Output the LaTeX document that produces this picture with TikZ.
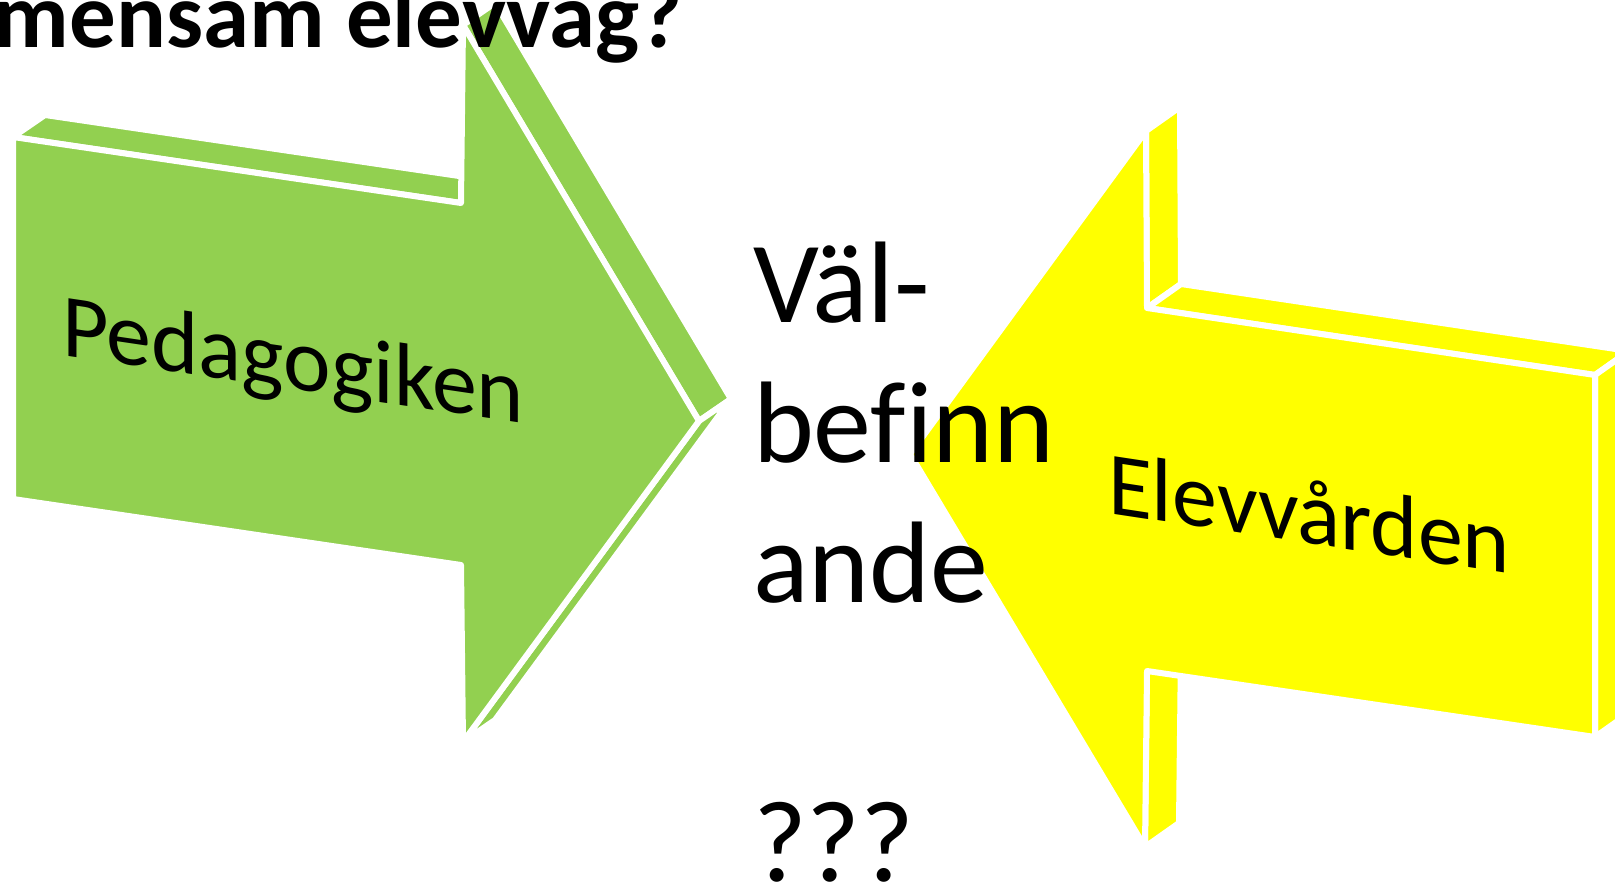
\documentclass[tikz,border=0pt]{standalone}
\usepackage{fontspec}
\setmainfont{Carlito}[Ligatures=NoCommon]
\definecolor{agreen}{HTML}{92D050}
\definecolor{ayellow}{HTML}{FFFF00}
\tikzset{
  face/.style={draw=white, line width=6pt, line join=round},
  gface/.style={face, fill=agreen},
  yface/.style={face, fill=ayellow},
  lbl/.style={inner sep=0pt, outer sep=0pt, anchor=base west, text=black},
  gback/.style={shift={(32,-22)}},
  yback/.style={shift={(34,-24)}}
}
\begin{document}
\begin{tikzpicture}[x=1pt,y=-1pt]
\useasboundingbox (0,0) rectangle (1615,888);
\clip (0,0) rectangle (1615,888);
\fill[white] (0,0) rectangle (1615,888);
% green arrow (front face)
\coordinate (g1) at (13,137);
\coordinate (g2) at (461,203);
\coordinate (g3) at (463,25);
\coordinate (g4) at (699,421);
\coordinate (g5) at (463,742);
\coordinate (g6) at (461,565);
\coordinate (g7) at (13,499);
\foreach \n in {g1,g2,g3,g4,g5}{\coordinate (\n b) at ([gback]\n);}
\path[gface] (g1) -- (g1b) -- (g2b) -- (g2) -- cycle;
\path[gface] (g3) -- (g3b) -- (g4b) -- (g4) -- cycle;
\path[gface] (g4) -- (g4b) -- (g5b) -- (g5) -- cycle;
\path[gface] (g1) -- (g2) -- (g3) -- (g4) -- (g5) -- (g6) -- (g7) -- cycle;
% yellow arrow (front face)
\coordinate (y1) at (1595,737);
\coordinate (y2) at (1147,671);
\coordinate (y3) at (1145,847);
\coordinate (y4) at (910,454);
\coordinate (y5) at (1146,131);
\coordinate (y6) at (1147,308);
\coordinate (y7) at (1595,375);
\foreach \n in {y1,y2,y3,y5,y6,y7}{\coordinate (\n b) at ([yback]\n);}
\path[yface] (y5) -- (y5b) -- (y6b) -- (y6) -- cycle;
\path[yface] (y6) -- (y6b) -- (y7b) -- (y7) -- cycle;
\path[yface] (y7) -- (y7b) -- (y1b) -- (y1) -- cycle;
\path[yface] (y2) -- (y2b) -- (y3b) -- (y3) -- cycle;
\path[yface] (y1) -- (y2) -- (y3) -- (y4) -- (y5) -- (y6) -- (y7) -- cycle;
% labels
\node[lbl, font=\fontsize{90}{108}\selectfont, yslant=-0.148] (ped) at (62,355) {Pedagogiken};
\node[lbl, font=\fontsize{90}{108}\selectfont, yslant=-0.152] (elev) at (1108,513) {Elevvården};
\node[lbl, font=\bfseries\fontsize{93}{110}\selectfont] (title) at (-6,48) {mensam elevväg?};
\node[lbl, font=\fontsize{116}{140}\selectfont] (v1) at (753,322) {Väl-};
\node[lbl, font=\fontsize{116}{140}\selectfont] (v2) at (753,462) {bef\kern0pt inn};
\node[lbl, font=\fontsize{116}{140}\selectfont] (v3) at (753,602) {ande};
\node[lbl, font=\fontsize{116}{140}\selectfont] (v4) at (753,881) {???};
\end{tikzpicture}
\end{document}
